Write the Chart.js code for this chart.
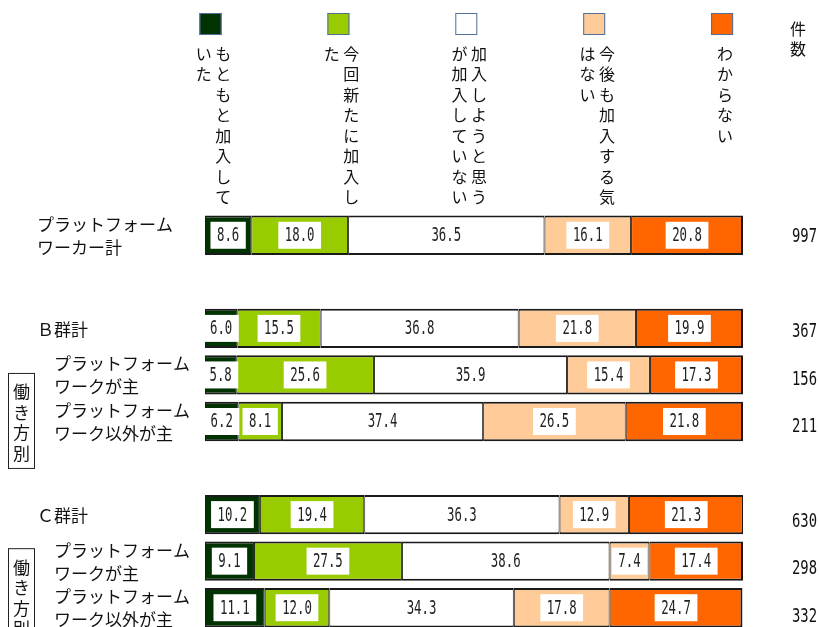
<!DOCTYPE html>
<html lang="ja">
<head>
<meta charset="utf-8">
<script src="https://cdn.jsdelivr.net/npm/chart.js@4.4.0/dist/chart.umd.min.js"></script>
<style>
  html, body { margin: 0; padding: 0; width: 819px; height: 627px; overflow: hidden; background: #fff; }
  canvas { display: block; }
</style>
</head>
<body>
<canvas id="chart-join" width="819" height="640"></canvas>
<script>
// 行ラベル（空行はグループ間の余白）
const rowLabels = [
  ["プラットフォーム", "ワーカー計"],
  "",
  "Ｂ群計",
  ["プラットフォーム", "ワークが主"],
  ["プラットフォーム", "ワーク以外が主"],
  "",
  "Ｃ群計",
  ["プラットフォーム", "ワークが主"],
  ["プラットフォーム", "ワーク以外が主"],
];
const seriesNames = [
  "もともと加入していた",
  "今回新たに加入した",
  "加入しようと思うが加入していない",
  "今後も加入する気はない",
  "わからない",
];
const seriesColors = ["#003300", "#99cc00", "#ffffff", "#ffcc99", "#ff6600"];

// 各系列の割合（％）
const joinedBefore = [8.6, null, 6.0, 5.8, 6.2, null, 10.2, 9.1, 11.1];
const joinedNow = [18.0, null, 15.5, 25.6, 8.1, null, 19.4, 27.5, 12.0];
const wantToJoin = [36.5, null, 36.8, 35.9, 37.4, null, 36.3, 38.6, 34.3];
const noIntention = [16.1, null, 21.8, 15.4, 26.5, null, 12.9, 7.4, 17.8];
const unknown = [20.8, null, 19.9, 17.3, 21.8, null, 21.3, 17.4, 24.7];

// 件数
const counts = [997, null, 367, 156, 211, null, 630, 298, 332];
const countTitle = "件数";
const groupTag = "働き方別";

const JP = '"Noto Sans CJK JP", "Noto Sans", sans-serif';
const NUM = '"DejaVu Sans Mono", monospace';

// 細長い数字を描く（横方向を縮める）
function drawNarrow(ctx, text, x, y, font, sx, align) {
  ctx.save();
  ctx.font = font;
  const w = ctx.measureText(text).width * sx;
  const left = align === "right" ? x - w : align === "center" ? x - w / 2 : x;
  ctx.translate(left, y);
  ctx.scale(sx, 1);
  ctx.textAlign = "left";
  ctx.textBaseline = "middle";
  ctx.fillText(text, 0, 0);
  ctx.restore();
  return w;
}

const subRows = [3, 4, 7, 8];
const groupBoxes = [
  { row: 3, dy: -2, h: 95 },
  { row: 7, dy: -13, h: 95 },
];

const decorPlugin = {
  id: "decor",
  afterDatasetsDraw(chart) {
    const ctx = chart.ctx;
    // 棒の中の数値ラベル（白い箱）
    chart.data.datasets.forEach((ds, di) => {
      const meta = chart.getDatasetMeta(di);
      meta.data.forEach((bar, i) => {
        const v = ds.data[i];
        if (v == null) return;
        const p = bar.getProps(["x", "y", "base"], true);
        const cx = (p.x + p.base) / 2;
        const txt = v.toFixed(1);
        const font = "19px " + NUM;
        ctx.font = font;
        const tw = ctx.measureText(txt).width * 0.65;
        const bw = tw + 13, bh = 27;
        ctx.fillStyle = "#ffffff";
        ctx.fillRect(cx - bw / 2, p.y - bh / 2, bw, bh);
        ctx.fillStyle = "#222";
        drawNarrow(ctx, txt, cx, p.y + 1, font, 0.65, "center");
      });
    });
  },
  afterDraw(chart) {
    const ctx = chart.ctx;
    const area = chart.chartArea;
    const yScale = chart.scales.y;

    // 凡例（四角＋縦書き）
    chart.data.datasets.forEach((ds, i) => {
      const cx = area.left + 5.5 + i * 127.9;
      ctx.fillStyle = ds.backgroundColor;
      ctx.fillRect(cx - 11, 13, 22, 22);
      ctx.strokeStyle = "#4f6e9c";
      ctx.lineWidth = 1;
      ctx.strokeRect(cx - 10.5, 13.5, 21, 21);

      const chars = Array.from(ds.label);
      const cols = [];
      for (let k = 0; k < chars.length; k += 8) cols.push(chars.slice(k, k + 8));
      ctx.font = "16px " + JP;
      ctx.fillStyle = "#111";
      ctx.textAlign = "center";
      ctx.textBaseline = "middle";
      cols.forEach((col, ci) => {
        const x = cx + 3 + ((cols.length - 1) / 2 - ci) * 19.5;
        col.forEach((ch, ri) => ctx.fillText(ch, x, 53.5 + ri * 20.5));
      });
    });

    // 件数見出し
    ctx.font = "16px " + JP;
    ctx.fillStyle = "#111";
    ctx.textAlign = "center";
    ctx.textBaseline = "middle";
    Array.from(countTitle).forEach((ch, k) => ctx.fillText(ch, 798, 29 + k * 20));

    // 行ラベル
    ctx.font = "17px " + JP;
    ctx.textAlign = "left";
    rowLabels.forEach((lab, i) => {
      if (!lab) return;
      const c = yScale.getPixelForValue(i);
      const x = subRows.includes(i) ? 54 : 37;
      if (Array.isArray(lab)) {
        ctx.fillText(lab[0], x, c - 11);
        ctx.fillText(lab[1], x, c + 12);
      } else {
        ctx.fillText(lab, x, c + 1);
      }
    });

    // 働き方別の枠
    groupBoxes.forEach(g => {
      const top = yScale.getPixelForValue(g.row) + g.dy;
      ctx.strokeStyle = "#222";
      ctx.lineWidth = 1;
      ctx.strokeRect(8.5, top + 0.5, 26, g.h);
      ctx.font = "17px " + JP;
      ctx.fillStyle = "#111";
      ctx.textAlign = "center";
      Array.from(groupTag).forEach((ch, k) => ctx.fillText(ch, 21.5, top + 19 + k * 20.5));
    });

    // 件数
    ctx.fillStyle = "#111";
    counts.forEach((n, i) => {
      if (n == null) return;
      const c = yScale.getPixelForValue(i);
      drawNarrow(ctx, String(n), 817, c + 2 + (c - 235) * 0.019, "19px " + NUM, 0.73, "right");
    });
  },
};

const seriesValues = [joinedBefore, joinedNow, wantToJoin, noIntention, unknown];

new Chart(document.getElementById("chart-join"), {
  type: "bar",
  data: {
    labels: rowLabels,
    datasets: seriesValues.map((vals, i) => ({
      label: seriesNames[i],
      data: vals,
      backgroundColor: seriesColors[i],
      borderColor: "#1a1a1a",
      borderWidth: { top: 2, bottom: 2, left: 1, right: i === 4 ? 2 : 1 },
      borderSkipped: false,
      barPercentage: 0.845,
      categoryPercentage: 1,
    })),
  },
  options: {
    indexAxis: "y",
    responsive: false,
    animation: false,
    events: [],
    layout: { padding: { left: 205, right: 76, top: 212, bottom: 9 } },
    scales: {
      x: { display: false, stacked: true, min: 0, max: 100 },
      y: { display: false, stacked: true },
    },
    plugins: {
      legend: { display: false },
      tooltip: { enabled: false },
    },
  },
  plugins: [decorPlugin],
});
</script>
</body>
</html>
